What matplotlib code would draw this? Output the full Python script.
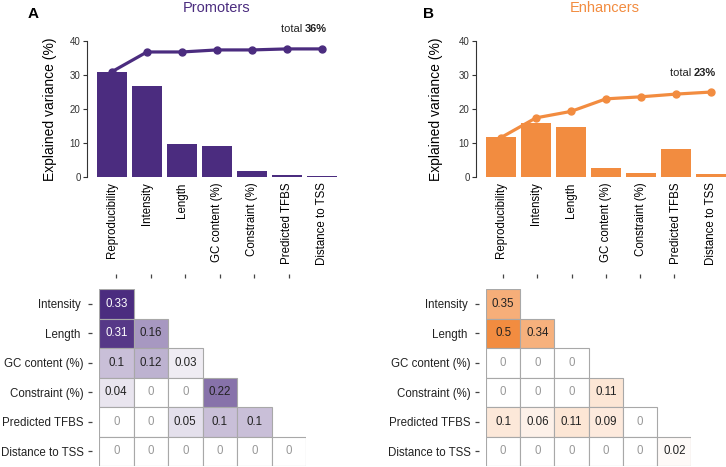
import numpy as np
import matplotlib
matplotlib.use("Agg")
import matplotlib.pyplot as plt

plt.rcParams['font.family'] = ['Liberation Sans', 'DejaVu Sans']

PURPLE = "#4b2c7f"
ORANGE = "#f28c40"

features = ["Reproducibility", "Intensity", "Length", "GC content (%)",
            "Constraint (%)", "Predicted TFBS", "Distance to TSS"]
# row labels of the correlation grids (two carry a trailing space, as in the figure)
row_labels = ["Intensity ", "Length ", "GC content (%)", "Constraint (%)",
              "Predicted TFBS", "Distance to TSS"]

# explained variance per feature (bars) and cumulative (line)
prom_bars = [31.0, 26.9, 9.6, 9.0, 1.7, 0.6, 0.2]
prom_cum = [31.0, 36.8, 36.8, 37.4, 37.4, 37.7, 37.7]
enh_bars = [11.7, 15.9, 14.8, 2.5, 1.3, 8.3, 1.0]
enh_cum = [11.6, 17.4, 19.3, 23.0, 23.6, 24.4, 25.0]

prom_total = "36%"
enh_total = "23%"

# correlation matrices, lower triangle (rows: features[1:], cols: features[:-1])
prom_corr = [
    [0.33],
    [0.31, 0.16],
    [0.1, 0.12, 0.03],
    [0.04, 0, 0, 0.22],
    [0, 0, 0.05, 0.1, 0.1],
    [0, 0, 0, 0, 0, 0],
]
enh_corr = [
    [0.35],
    [0.5, 0.34],
    [0, 0, 0],
    [0, 0, 0, 0.11],
    [0.1, 0.06, 0.11, 0.09, 0],
    [0, 0, 0, 0, 0, 0.02],
]

LABEL_SIZE = 8.3


def bar_panel(ax, bars, cum, color, total, total_y):
    x = np.arange(len(bars))
    ax.bar(x, bars, width=0.85, color=color, zorder=2)
    ax.plot(x, cum, "o-", color=color, lw=2.3, ms=5, zorder=3)
    ax.set_xlim(-0.7, 6.5)
    ax.set_ylim(0, 40)
    for s in ("top", "right", "bottom"):
        ax.spines[s].set_visible(False)
    ax.spines["left"].set_linewidth(0.8)
    ax.spines["left"].set_color("#333333")
    ax.set_yticks([0, 10, 20, 30, 40])
    ax.set_xticks(x)
    ax.set_xticklabels(features, rotation=90)
    ax.tick_params(axis="x", length=0, pad=4, labelsize=LABEL_SIZE)
    ax.tick_params(axis="y", length=3, width=0.8, labelsize=7,
                   colors="#333333", pad=2)
    ax.set_ylabel("Explained variance (%)", fontsize=10)
    bold = ax.text(6.15, total_y, total, fontsize=8, fontweight="bold",
                   ha="right", va="center", color="#222222")
    ax.annotate("total ", xy=(0, 0.5), xycoords=bold, ha="right", va="center",
                fontsize=8, color="#222222")


def heat_panel(ax, rows, color, white_above):
    n = len(rows)
    vmax = max(max(r) for r in rows)
    cmap = matplotlib.colors.LinearSegmentedColormap.from_list("c", ["#ffffff", color])
    norm = matplotlib.colors.Normalize(0, vmax)
    for i, r in enumerate(rows):
        ax.barh([i + 0.5] * len(r), [1] * len(r), left=np.arange(len(r)),
                height=1, color=cmap(norm(np.array(r))),
                edgecolor="#a8a8a8", linewidth=0.8)
        for j, v in enumerate(r):
            if v == 0:
                tc = "#999999"
            elif white_above is not None and v >= white_above:
                tc = "white"
            else:
                tc = "#222222"
            ax.text(j + 0.5, i + 0.5, f"{v:g}", ha="center", va="center",
                    fontsize=LABEL_SIZE, color=tc)
    ax.set_xlim(0, n)
    ax.set_ylim(n, 0)
    for s in ax.spines.values():
        s.set_color("none")
    ax.spines["left"].set_position(("outward", 5))
    ax.spines["top"].set_position(("outward", 8))
    ax.xaxis.tick_top()
    ax.set_yticks(np.arange(n) + 0.5)
    ax.set_yticklabels(row_labels)
    ax.set_xticks(np.arange(n) + 0.5)
    ax.set_xticklabels([])
    ax.tick_params(length=3, width=0.9, color="#444444", pad=3,
                   labelsize=LABEL_SIZE, labelcolor="#222222")


fig = plt.figure(figsize=(7.26, 4.67), dpi=100)

ax1 = fig.add_axes([0.1205, 0.621, 0.347, 0.291])
ax2 = fig.add_axes([0.6563, 0.621, 0.347, 0.291])
bar_panel(ax1, prom_bars, prom_cum, PURPLE, prom_total, 43.5)
bar_panel(ax2, enh_bars, enh_cum, ORANGE, enh_total, 30.6)
ax1.yaxis.set_label_coords(-0.121, 0.5)
ax2.yaxis.set_label_coords(-0.133, 0.5)

h1 = fig.add_axes([0.1364, 0.002, 0.2851, 0.379])
h2 = fig.add_axes([0.6694, 0.002, 0.2830, 0.379])
heat_panel(h1, prom_corr, PURPLE, 0.25)
heat_panel(h2, enh_corr, ORANGE, None)

fig.text(0.298, 0.983, "Promoters", color=PURPLE, fontsize=10.5,
         ha="center", va="center")
fig.text(0.833, 0.983, "Enhancers", color=ORANGE, fontsize=10.5,
         ha="center", va="center")
fig.text(0.045, 0.97, "A", fontsize=11, fontweight="bold", ha="center", va="center")
fig.text(0.59, 0.97, "B", fontsize=11, fontweight="bold", ha="center", va="center")

fig.savefig("out.png", dpi=100)
